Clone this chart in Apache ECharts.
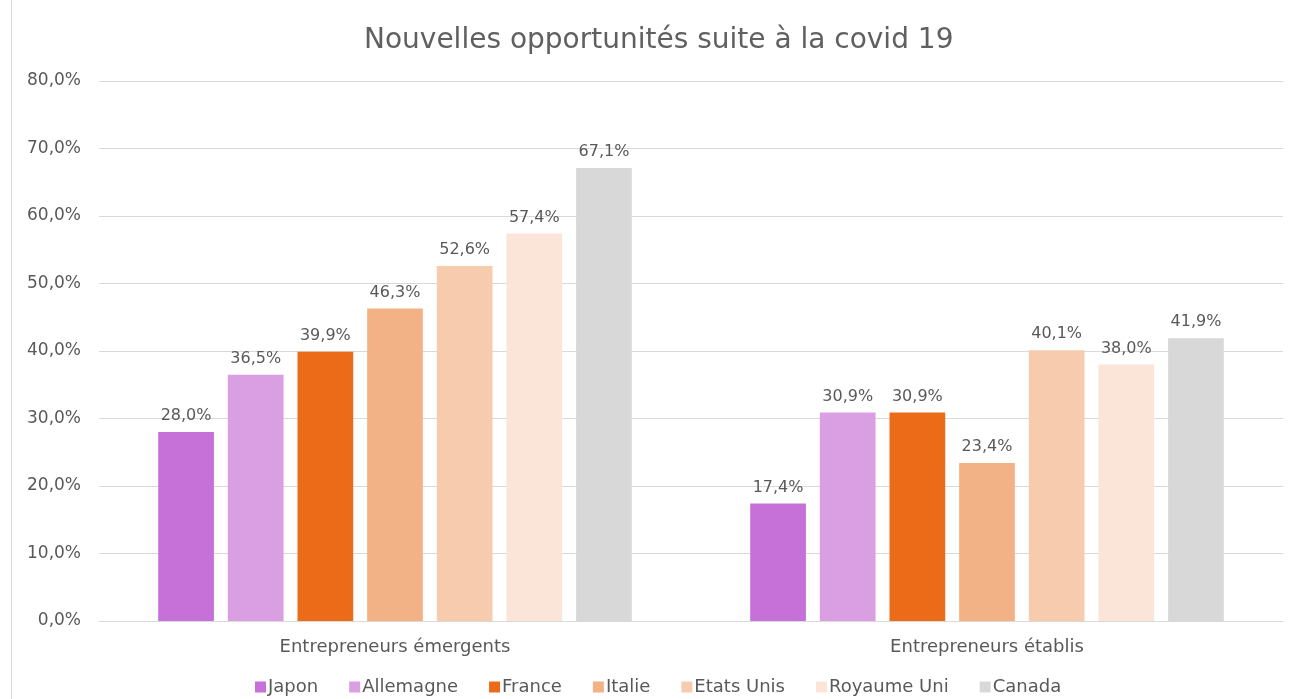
<!DOCTYPE html>
<html>
<head>
<meta charset="utf-8">
<script src="https://cdn.jsdelivr.net/npm/echarts@6/dist/echarts.min.js"></script>
<style>
  html, body { margin: 0; padding: 0; background: #fff; }
  #chart { width: 1292px; height: 699px; }
</style>
</head>
<body>
<div id="chart"></div>
<script>
// Groups on the x axis
const categories = ['Entrepreneurs émergents', 'Entrepreneurs établis'];

// Countries (one series each) and their values in percent
const countries = ['Japon', 'Allemagne', 'France', 'Italie', 'Etats Unis', 'Royaume Uni', 'Canada'];
const japon = [28.0, 17.4];
const allemagne = [36.5, 30.9];
const france = [39.9, 30.9];
const italie = [46.3, 23.4];
const etatsUnis = [52.6, 40.1];
const royaumeUni = [57.4, 38.0];
const canada = [67.1, 41.9];

// Y axis ticks
const yMin = 0, yMax = 80, yStep = 10;

const seriesValues = [japon, allemagne, france, italie, etatsUnis, royaumeUni, canada];
const colors = ['#C571D8', '#D99FE2', '#EC6B18', '#F3B186', '#F7CBAD', '#FBE5D8', '#D8D8D8'];

const fmt = v => v.toFixed(1).replace('.', ',') + '%';
const FONT = 'DejaVu Sans';
const TEXT = '#595959';

const chart = echarts.init(document.getElementById('chart'), null, { renderer: 'canvas' });

chart.setOption({
  backgroundColor: '#fff',
  animation: false,
  color: colors,
  title: {
    text: 'Nouvelles opportunités suite à la covid 19',
    left: 359,
    top: 22,
    textStyle: { fontFamily: FONT, fontSize: 28, fontWeight: 'normal', color: '#606060' }
  },
  graphic: [{
    type: 'line',
    shape: { x1: 11.5, y1: 0, x2: 11.5, y2: 699 },
    style: { stroke: '#D9D9D9', lineWidth: 1 }
  }],
  legend: {
    bottom: -2,
    left: 250,
    itemWidth: 11,
    itemHeight: 11,
    itemGap: 31,
    icon: 'rect',
    textStyle: { fontFamily: FONT, fontSize: 18, color: TEXT, padding: [0, 0, 0, -3] },
    data: countries
  },
  grid: { left: 99, right: 9, top: 81, bottom: 78, containLabel: false },
  xAxis: {
    type: 'category',
    data: categories,
    axisLine: { lineStyle: { color: '#D9D9D9' } },
    axisTick: { show: false },
    axisLabel: { fontFamily: FONT, fontSize: 18, color: TEXT, margin: 17 }
  },
  yAxis: {
    type: 'value',
    min: yMin, max: yMax, interval: yStep,
    axisLine: { show: false },
    axisTick: { show: false },
    splitLine: { lineStyle: { color: '#D9D9D9' } },
    axisLabel: { fontFamily: FONT, fontSize: 17, color: TEXT, margin: 18, formatter: v => fmt(v) }
  },
  series: countries.map((name, i) => ({
    name,
    type: 'bar',
    data: seriesValues[i],
    barGap: '25%',
    barCategoryGap: '20%',
    label: {
      show: true,
      position: 'top',
      distance: 8,
      fontFamily: FONT,
      fontSize: 16,
      color: TEXT,
      formatter: p => fmt(p.value)
    }
  }))
});
</script>
</body>
</html>
